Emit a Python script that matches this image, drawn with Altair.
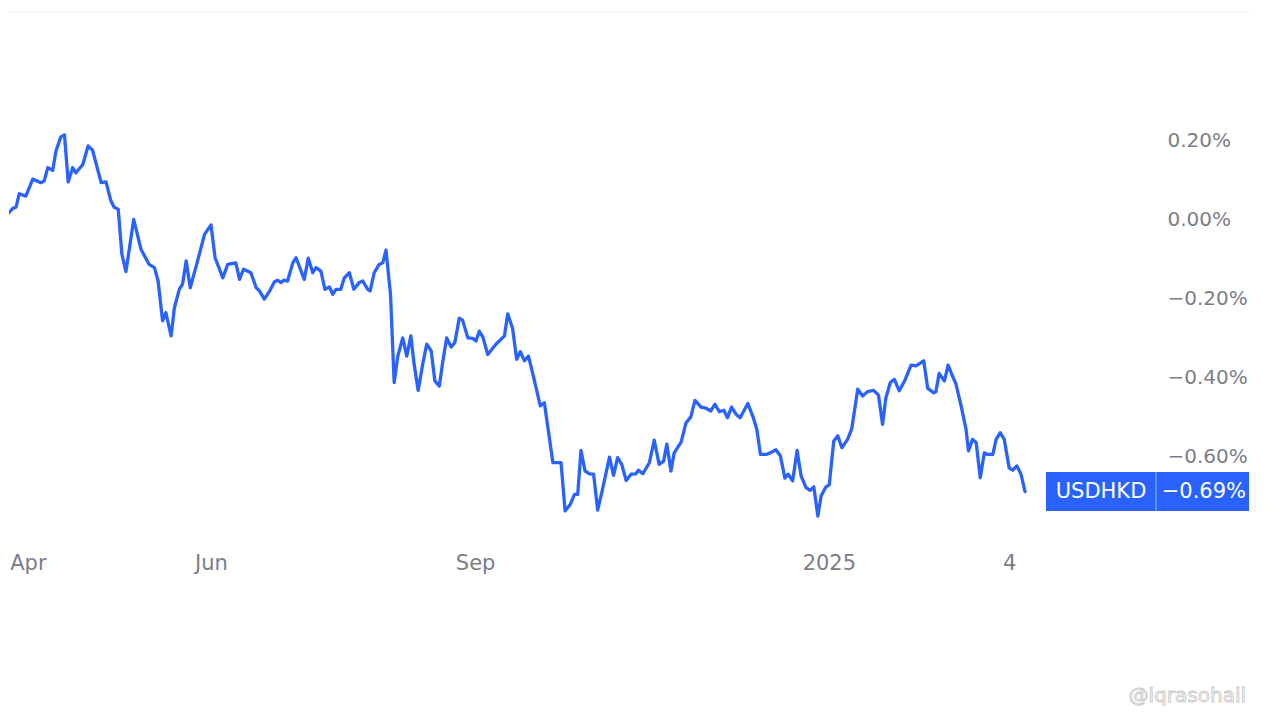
import json
import altair as alt
import pandas as pd

# Trading-session index (weekends skipped) and USDHKD % change
session = [
    0, 1.6, 2.9, 3.7, 4.5, 6.1, 7.8, 9.8, 10.6, 11.5, 12.7, 13.5, 14.7, 15.6, 16.5,
    17.6, 18.4, 20.1, 21.4, 22.5, 24.6, 25.8, 27.0, 27.8, 28.8, 29.7, 30.7, 32.6,
    34.4, 36.4, 37.7, 38.6, 39.7, 40.5, 41.8, 42.6, 43.8, 44.6, 45.5, 46.5, 48.3,
    50.0, 51.6, 52.6, 54.5, 55.7, 57.7, 58.6, 59.6, 61.4, 62.7, 63.5, 64.7, 65.9,
    67.2, 68.0, 68.8, 69.5, 70.4, 71.7, 72.5, 74.5, 75.5, 76.6, 77.4, 78.6, 79.6,
    80.7, 81.5, 82.3, 83.5, 84.3, 85.6, 86.7, 88.0, 88.9, 90.1, 90.7, 91.7, 92.9,
    93.8, 94.6, 95.7, 96.6, 97.5, 98.7, 99.7, 100.7, 101.5, 102.5, 103.6, 104.6,
    105.7, 106.6, 107.7, 108.5, 109.5, 110.6, 111.5, 112.6, 113.4, 114.7, 115.9,
    116.7, 117.5, 118.4, 119.6, 121.6, 123.7, 124.5, 125.7, 126.7, 127.6, 128.6,
    129.6, 130.9, 132.5, 133.5, 135.6, 137.6, 138.6, 139.9, 140.9, 141.7, 142.5,
    143.5, 144.6, 145.6, 146.6, 147.8, 149.5, 150.5, 151.5, 152.5, 153.6, 154.8,
    156.0, 156.6, 157.7, 159.3, 160.5, 161.7, 162.8, 163.6, 164.6, 165.4, 167.1,
    168.3, 169.5, 170.5, 172.0, 173.2, 174.4, 175.4, 176.5, 177.6, 178.5, 179.5,
    180.6, 181.6, 183.5, 184.7, 185.7, 186.6, 188.0, 189.0, 190.4, 191.5, 192.6,
    193.4, 194.5, 195.6, 196.6, 197.8, 198.8, 199.7, 200.7, 201.5, 202.7, 203.5,
    204.6, 205.6, 206.6, 208.0, 209.0, 210.5, 211.7, 212.9, 214.4, 215.6, 216.6,
    217.4, 218.5, 219.5, 220.7, 222.1, 223.6, 224.8, 226.7, 227.7, 229.2, 229.7,
    230.5, 231.8, 232.7, 233.6, 234.6, 235.9, 237.1, 237.7, 238.7, 239.6, 240.6,
    241.6, 242.4, 243.7, 244.5, 245.5, 246.5, 247.7, 248.6, 249.6, 250.6, 251.6,
]
change_pct = [
    0.008, 0.012, 0.027, 0.030, 0.064, 0.058, 0.101, 0.092, 0.096, 0.130, 0.123,
    0.172, 0.208, 0.213, 0.094, 0.130, 0.117, 0.138, 0.185, 0.174, 0.092, 0.094,
    0.046, 0.030, 0.025, -0.089, -0.133, -0.001, -0.077, -0.115, -0.123, -0.157,
    -0.258, -0.237, -0.296, -0.225, -0.178, -0.165, -0.106, -0.174, -0.106, -0.039,
    -0.015, -0.098, -0.149, -0.115, -0.111, -0.153, -0.127, -0.136, -0.174, -0.182,
    -0.203, -0.184, -0.159, -0.155, -0.161, -0.155, -0.157, -0.111, -0.098, -0.153,
    -0.099, -0.136, -0.123, -0.132, -0.178, -0.172, -0.191, -0.178, -0.178, -0.150,
    -0.136, -0.178, -0.161, -0.157, -0.178, -0.182, -0.136, -0.115, -0.111, -0.079,
    -0.191, -0.414, -0.347, -0.301, -0.347, -0.296, -0.368, -0.434, -0.368, -0.317,
    -0.334, -0.410, -0.423, -0.364, -0.301, -0.324, -0.313, -0.251, -0.256, -0.301,
    -0.302, -0.309, -0.284, -0.299, -0.343, -0.317, -0.296, -0.240, -0.277, -0.355,
    -0.336, -0.359, -0.347, -0.402, -0.473, -0.465, -0.617, -0.617, -0.739, -0.722,
    -0.697, -0.697, -0.586, -0.638, -0.645, -0.646, -0.737, -0.684, -0.603, -0.649,
    -0.604, -0.621, -0.662, -0.646, -0.645, -0.636, -0.645, -0.617, -0.560, -0.621,
    -0.613, -0.570, -0.638, -0.592, -0.565, -0.516, -0.501, -0.459, -0.476, -0.479,
    -0.486, -0.469, -0.488, -0.484, -0.503, -0.476, -0.494, -0.503, -0.467, -0.499,
    -0.532, -0.596, -0.596, -0.592, -0.584, -0.600, -0.656, -0.646, -0.663, -0.586,
    -0.651, -0.680, -0.687, -0.678, -0.752, -0.701, -0.678, -0.673, -0.562, -0.549,
    -0.579, -0.558, -0.532, -0.431, -0.448, -0.437, -0.434, -0.446, -0.520, -0.453,
    -0.414, -0.406, -0.435, -0.408, -0.370, -0.372, -0.359, -0.429, -0.440, -0.437,
    -0.391, -0.410, -0.370, -0.393, -0.417, -0.473, -0.532, -0.587, -0.558, -0.566,
    -0.655, -0.592, -0.596, -0.596, -0.558, -0.541, -0.558, -0.630, -0.636, -0.625,
    -0.646, -0.690,
]

x_tick_pos = [6.6, 51.6, 116.5, 203.4, 247.7]
x_tick_lab = ["Apr", "Jun", "Sep", "2025", "4"]
y_ticks = [0.2, 0.0, -0.2, -0.4, -0.6]
symbol = "USDHKD"
watermark = "@iqrasohail"

FONT = "DejaVu Sans"
GRAY = "#7b7e88"
BLUE = "#2962FF"
W, H = 1240, 665

df = pd.DataFrame({"session": session, "pct": change_pct})
last = pd.DataFrame({"session": [session[-1]], "pct": [change_pct[-1]], "symbol": [symbol]})

xscale = alt.Scale(domain=[1.966, 306.63], nice=False, zero=False)
yscale = alt.Scale(domain=[-1.1595, 0.5241], nice=False, zero=False)

x_label_expr = f"{json.dumps(x_tick_lab)}[indexof({json.dumps(x_tick_pos)}, datum.value)]"

line = alt.Chart(df).mark_line(
    color=BLUE, strokeWidth=3.3, strokeJoin="round", strokeCap="round", clip=True
).encode(
    x=alt.X("session:Q", scale=xscale, title=None,
            axis=alt.Axis(values=x_tick_pos, labelExpr=x_label_expr, grid=False, ticks=False,
                          domain=False, labelFont=FONT, labelFontSize=21, labelColor=GRAY,
                          offset=-125, labelPadding=0, labelFlush=False,
                          labelOverlap=False, labelBound=False)),
    y=alt.Y("pct:Q", scale=yscale, title=None,
            axis=alt.Axis(orient="right", values=y_ticks,
                          labelExpr="format(datum.value, '.2f') + '%'",
                          grid=False, ticks=False, domain=False, offset=-82, labelPadding=0,
                          labelFont=FONT, labelFontSize=20, labelColor=GRAY,
                          labelAlign="left", labelOverlap=False, labelBound=False)),
)

top_rule = alt.Chart(last).mark_rule(color="#eeeeee", strokeWidth=1).encode(
    x=alt.value(0), x2=alt.value(W), y=alt.value(0)
)

box = alt.Chart(last).mark_rule(color=BLUE, strokeWidth=39, strokeCap="butt").encode(
    x=alt.value(1037), x2=alt.value(W), y=alt.Y("pct:Q", scale=yscale)
)

divider = alt.Chart(last).mark_tick(
    orient="vertical", color="#ffffff", opacity=0.55, thickness=1, size=39
).encode(x=alt.value(1147), y=alt.Y("pct:Q", scale=yscale))

sym_text = alt.Chart(last).mark_text(
    color="white", font=FONT, fontSize=21, align="center", baseline="middle"
).encode(x=alt.value(1092), y=alt.Y("pct:Q", scale=yscale), text="symbol:N")

val_text = alt.Chart(last).transform_calculate(
    lab="format(datum.pct, '.2f') + '%'"
).mark_text(
    color="white", font=FONT, fontSize=21, align="right", baseline="middle"
).encode(x=alt.value(1237), y=alt.Y("pct:Q", scale=yscale), text="lab:N")

wm = alt.Chart(last).mark_text(
    text=watermark, font=FONT, fontSize=20, fill="#ffffff", stroke="#c9c9c9",
    strokeWidth=0.9, align="right", baseline="middle"
).encode(x=alt.value(1237), y=alt.value(684))

chart = alt.layer(line, top_rule, box, divider, sym_text, val_text, wm).properties(
    width=W, height=H,
    padding={"left": 0, "top": 3, "right": 0, "bottom": 0},
).configure_view(stroke=None)

chart.save("out.html", embed_options={"renderer": "svg", "actions": False})
